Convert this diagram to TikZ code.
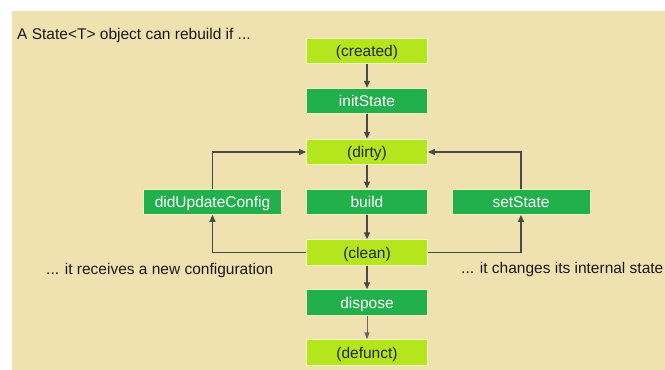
\documentclass[tikz,border=0pt]{standalone}
\usepackage{fontspec}
\setmainfont{Liberation Sans}
\usetikzlibrary{arrows.meta,positioning}
\definecolor{paper}{RGB}{239,226,176}
\definecolor{lime}{RGB}{181,230,29}
\definecolor{leaf}{RGB}{34,176,76}
\definecolor{wire}{RGB}{72,72,72}

\begin{document}
\begin{tikzpicture}[x=1pt,y=-1pt,font=\fontsize{15.5}{18}\selectfont,
    box/.style={minimum width=121pt,minimum height=25.5pt,inner sep=0pt,
      text height=11pt,text depth=0pt,draw=white!70!lime,line width=0.9pt},
    state/.style={box,fill=lime,text=black!85},
    call/.style={box,fill=leaf,text=white},
    side/.style={call,minimum width=138pt},
    flow/.style={draw=wire,line width=1.3pt,-{Triangle[length=7pt,width=6pt]}},
    faint/.style={draw=black!60,line width=1pt,-{Triangle[length=7pt,width=5pt]}},
    note/.style={anchor=base west,inner sep=0pt,text=black!90}]
  \useasboundingbox (0,0) rectangle (665,370);
  \fill[paper] (12,11) rectangle (665,370);

  \node[note] (title) at (17,39.5) {A State<T> object can rebuild if ...};

  % lifecycle column
  \node[state] (created) at (367,50.8)  {(created)};
  \node[call]  (init)    at (367,101)   {initState};
  \node[state] (dirty)   at (367,152)   {(dirty)};
  \node[call]  (build)   at (367,201.7) {build};
  \node[state] (clean)   at (367,252.5) {(clean)};
  \node[call]  (dispose) at (367,302.5) {dispose};
  \node[state] (defunct) at (367,352.5) {(defunct)};

  % rebuild triggers
  \node[side] (update) at (212.5,201.7) {didUpdateConfig};
  \node[side] (set)    at (521,201.7)   {setState};
  \node[note] (config)   at (46,274)  {... it receives a new configuration};
  \node[note] (internal) at (461,273) {... it changes its internal state};

  \draw[flow] (created) -- (init);
  \draw[flow] (init) -- (dirty);
  \draw[flow] (dirty) -- (build);
  \draw[flow] (build) -- (clean);
  \draw[flow] (clean) -- (dispose);
  \draw[faint] (dispose) -- (defunct);
  \draw[flow] (clean.west) -| (update);
  \draw[flow] (update) |- (dirty);
  \draw[flow] (clean.east) -| (set);
  \draw[flow] (set) |- (dirty);
\end{tikzpicture}
\end{document}
